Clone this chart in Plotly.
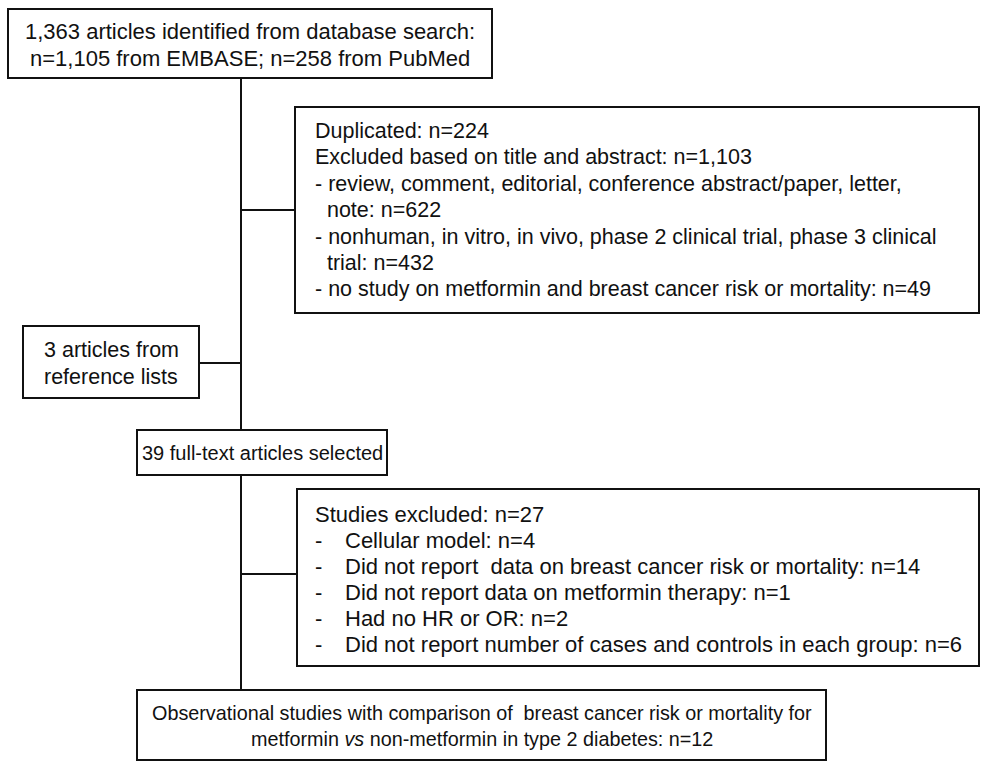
import plotly.graph_objects as go

# Flow-chart content (counts and labels)
top_lines = ["1,363 articles identified from database search:",
             "n=1,105 from EMBASE; n=258 from PubMed"]
excl1_lines = ["Duplicated: n=224",
               "Excluded based on title and abstract: n=1,103",
               "- review, comment, editorial, conference abstract/paper, letter,",
               "  note: n=622",
               "- nonhuman, in vitro, in vivo, phase 2 clinical trial, phase 3 clinical",
               "  trial: n=432",
               "- no study on metformin and breast cancer risk or mortality: n=49"]
ref_lines = ["3 articles from", "reference lists"]
full_lines = ["39 full-text articles selected"]
excl2_header = "Studies excluded: n=27"
excl2_items = ["Cellular model: n=4",
               "Did not report  data on breast cancer risk or mortality: n=14",
               "Did not report data on metformin therapy: n=1",
               "Had no HR or OR: n=2",
               "Did not report number of cases and controls in each group: n=6"]
final_lines = ["Observational studies with comparison of  breast cancer risk or mortality for",
               "metformin <i>vs</i> non-metformin in type 2 diabetes: n=12"]

W, H = 981, 762
FONT = "Liberation Sans, Arial, sans-serif"
LC = "#111111"

fig = go.Figure()
shapes = []
ann = []

def box(x0, y0, x1, y1):
    shapes.append(dict(type="rect", x0=x0, y0=y0, x1=x1, y1=y1, xref="x", yref="y",
                       line=dict(color=LC, width=2), fillcolor="white", layer="above"))

def line(x0, y0, x1, y1):
    shapes.append(dict(type="line", x0=x0, y0=y0, x1=x1, y1=y1, xref="x", yref="y",
                       line=dict(color=LC, width=2), layer="below"))

def txt(x, y, s, anchor="left", size=21):
    ann.append(dict(x=x, y=y, xref="x", yref="y", text=s.replace("  ", "&nbsp;&nbsp;"),
                    showarrow=False, xanchor=anchor, yanchor="middle",
                    font=dict(family=FONT, size=size, color="#111111")))

# connectors
line(241, 78, 241, 690)
line(241, 210, 295, 210)
line(199, 363, 241, 363)
line(241, 574, 297, 574)

# boxes
box(8, 9, 492, 78)
box(295, 107, 979, 313)
box(23, 326, 199, 398)
box(137, 430, 387, 475)
box(297, 489, 979, 666)
box(137, 690, 826, 760)

for i, s in enumerate(top_lines):
    txt(250, 31 + 27 * i, s, "center", 22)
for i, s in enumerate(excl1_lines):
    txt(313, 131 + 26.4 * i, s, size=21.5)
for i, s in enumerate(ref_lines):
    txt(111, 350 + 27 * i, s, "center", 21.5)
txt(262, 453, full_lines[0], "center", 20)
txt(313, 514, excl2_header, size=22)
for i, s in enumerate(excl2_items):
    txt(313, 540 + 26 * i, "-", size=22)
    txt(343, 540 + 26 * i, s, size=22)
for i, s in enumerate(final_lines):
    txt(482, 713 + 26 * i, s, "center", 19.8)

fig.update_layout(width=W, height=H, margin=dict(l=0, r=0, t=0, b=0),
                  paper_bgcolor="white", plot_bgcolor="white",
                  shapes=shapes, annotations=ann, showlegend=False,
                  xaxis=dict(range=[0, W], visible=False, fixedrange=True),
                  yaxis=dict(range=[H, 0], visible=False, fixedrange=True))
fig.write_html("out.html", config={"displayModeBar": False},
               post_script="document.body.style.margin='0';document.body.style.overflow='hidden';")
